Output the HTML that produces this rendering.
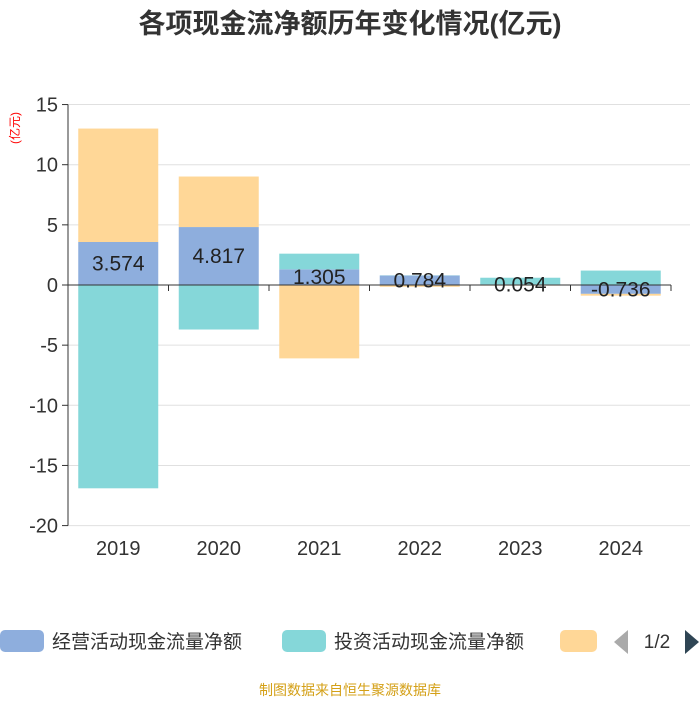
<!DOCTYPE html>
<html><head><meta charset="utf-8"><style>
body{margin:0;background:#fff;font-family:"Liberation Sans","Noto Sans CJK SC",sans-serif;}
</style></head><body>
<svg width="700" height="700" xmlns="http://www.w3.org/2000/svg" style="font-family:'Liberation Sans','Noto Sans CJK SC',sans-serif">
<text x="350" y="33" text-anchor="middle" font-size="27" font-weight="bold" fill="#333">各项现金流净额历年变化情况(亿元)</text>
<text transform="translate(19,128) rotate(-90)" text-anchor="middle" font-size="12" fill="#f00">(亿元)</text>
<g id="grid"></g><g id="bars"></g><g id="axes"></g><g id="labels"></g>
<g>
<rect x="0" y="630" width="44" height="22" rx="5" fill="#8eaedd"/>
<text x="52" y="648" font-size="19" fill="#333">经营活动现金流量净额</text>
<rect x="282" y="630" width="44" height="22" rx="5" fill="#85d7d9"/>
<text x="334" y="648" font-size="19" fill="#333">投资活动现金流量净额</text>
<rect x="560" y="630" width="37" height="22" rx="5" fill="#ffd797"/>
<polygon points="628,630 628,654 614,642" fill="#aaa"/>
<text x="657" y="648" text-anchor="middle" font-size="19" fill="#333">1/2</text>
<polygon points="685,630 685,654 699,642" fill="#2f4554"/>
</g>
<text x="350" y="695" text-anchor="middle" font-size="14" fill="#d4a017">制图数据来自恒生聚源数据库</text>
</svg>
<script>
const categories=["2019","2020","2021","2022","2023","2024"];
const operating=[3.574,4.817,1.305,0.784,0.054,-0.736];
const investing=[-16.9,-3.7,1.3,0.02,0.55,1.2];
const financing=[9.43,4.2,-6.1,-0.15,-0.05,-0.15];
const yTicks=[15,10,5,0,-5,-10,-15,-20];
const NS="http://www.w3.org/2000/svg";
const x0=68,x1=671,bw=(x1-x0)/categories.length;
const y=v=>285-v*12.03;
function mk(t,a,p){const e=document.createElementNS(NS,t);for(const k in a)e.setAttribute(k,a[k]);document.getElementById(p).appendChild(e);return e;}
yTicks.forEach(t=>{
 if(t!==0){const g=mk("line",{x1:x0,x2:690,y1:y(t),y2:y(t),stroke:"#e0e0e0"},"grid");
 
 }
 const tk=mk("line",{x1:x0-6,x2:x0,y1:y(t),y2:y(t),stroke:"#333"},"axes");
 
 
 const l=mk("text",{x:x0-10,y:y(t)+7,"text-anchor":"end","font-size":"20",fill:"#333"},"axes");l.textContent=t;
 
 
});
const ya=mk("line",{x1:x0,x2:x0,y1:y(15),y2:y(-20),stroke:"#333"},"axes");


const xa=mk("line",{x1:x0,x2:x1,y1:y(0),y2:y(0),stroke:"#333"},"axes");


for(let i=0;i<=categories.length;i++){const t=mk("line",{x1:x0+i*bw,x2:x0+i*bw,y1:y(0),y2:y(0)+6,stroke:"#333"},"axes");
 
 }
const series=[[operating,"#8eaedd","operating"],[investing,"#85d7d9","investing"],[financing,"#ffd797","financing"]];
categories.forEach((c,i)=>{
 let pos=0,neg=0;const cx=x0+bw*(i+0.5);
 series.forEach(([arr,col,nm])=>{
  const v=arr[i];let a,b;
  if(v>=0){a=pos;b=pos+v;pos=b;}else{a=neg;b=neg+v;neg=b;}
  const r=mk("rect",{x:cx-40,width:80,y:Math.min(y(a),y(b)),height:Math.abs(y(b)-y(a)),fill:col},"bars");
  
  
 });
 const lab=mk("text",{x:cx,y:(y(0)+y(operating[i]))/2+7,"text-anchor":"middle","font-size":"21",fill:"#222"},"labels");lab.textContent=operating[i];
 
 
 const xl=mk("text",{x:cx,y:555,"text-anchor":"middle","font-size":"20",fill:"#333"},"axes");xl.textContent=c;
 
 
});
</script>
</body></html>
